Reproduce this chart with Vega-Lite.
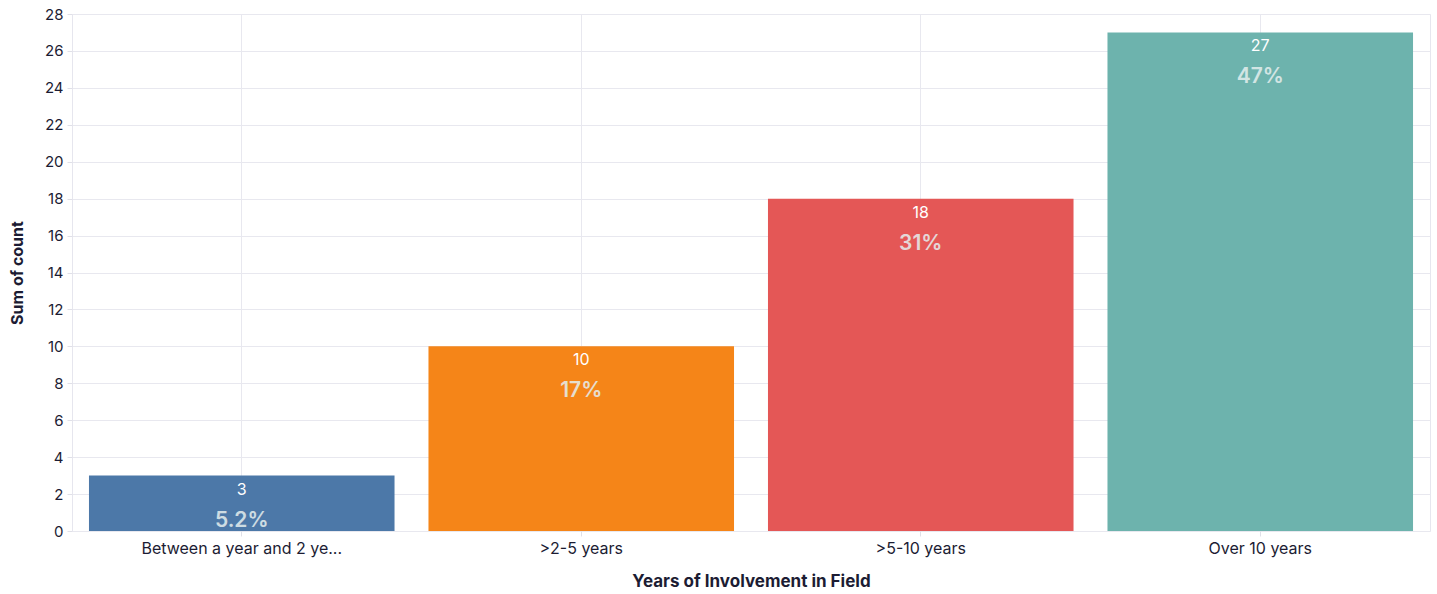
{
  "$schema": "https://vega.github.io/schema/vega-lite/v6.json",
  "autosize": {"type": "none"},
  "width": 1358,
  "height": 517,
  "padding": {"left": 72, "top": 14, "right": 7, "bottom": 63},
  "background": "white",
  "config": {
    "font": "Inter",
    "view": {"stroke": "#e6e6ee", "strokeWidth": 1},
    "axis": {
      "gridColor": "#e8e8ef",
      "tickColor": "#e0e0e8",
      "domain": false,
      "labelColor": "#1c1c33",
      "titleColor": "#1c1c33",
      "labelFont": "Inter",
      "titleFont": "Inter",
      "labelFontSize": 15,
      "titleFontSize": 16,
      "titleFontWeight": "bold"
    }
  },
  "data": {
    "values": [
      {"category": "Between a year and 2 years", "count": 3},
      {"category": ">2-5 years", "count": 10},
      {"category": ">5-10 years", "count": 18},
      {"category": "Over 10 years", "count": 27}
    ]
  },
  "transform": [
    {"joinaggregate": [{"op": "sum", "field": "count", "as": "total"}]},
    {"calculate": "datum.count / datum.total", "as": "pct"}
  ],
  "encoding": {
    "x": {
      "field": "category",
      "type": "nominal",
      "sort": null,
      "title": "Years of Involvement in Field",
      "scale": {"paddingInner": 0.1, "paddingOuter": 0.05},
      "axis": {
        "labelAngle": 0,
        "grid": true,
        "bandPosition": 0.5,
        "tickSize": 5,
        "labelPadding": 4,
        "labelLimit": 0,
        "labelFontSize": 16,
        "titleFontSize": 17,
        "titlePadding": 17,
        "labelExpr": "datum.label == 'Between a year and 2 years' ? 'Between a year and 2 ye...' : datum.label"
      }
    },
    "y": {
      "field": "count",
      "type": "quantitative",
      "title": "Sum of count",
      "scale": {"domain": [0, 28], "nice": false},
      "axis": {"values": [0,2,4,6,8,10,12,14,16,18,20,22,24,26,28], "tickSize": 5, "labelPadding": 4, "titlePadding": 19}
    }
  },
  "layer": [
    {
      "mark": {"type": "bar"},
      "encoding": {
        "color": {
          "field": "category",
          "type": "nominal",
          "sort": null,
          "legend": null,
          "scale": {"range": ["#4c78a8", "#f58518", "#e45756", "#6db3ad"]}
        }
      }
    },
    {
      "mark": {"type": "text", "baseline": "middle", "dy": 14, "color": "white", "fontSize": 16},
      "encoding": {"text": {"field": "count", "type": "quantitative"}}
    },
    {
      "mark": {"type": "text", "baseline": "middle", "dy": 45, "color": "#e4eeee", "opacity": 0.85, "fontSize": 21, "fontWeight": 600},
      "encoding": {"text": {"field": "pct", "type": "quantitative", "format": ".2p"}}
    }
  ]
}
